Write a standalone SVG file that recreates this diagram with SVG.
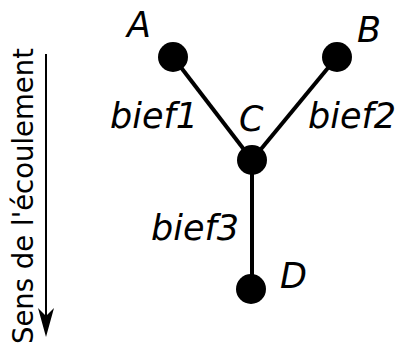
<svg xmlns="http://www.w3.org/2000/svg" width="397" height="345" viewBox="0 0 397 345">
<style>
.lbl{font-family:"DejaVu Sans",sans-serif;font-style:italic;font-size:35px;fill:#000}
.edge{stroke:#000;stroke-width:4;fill:none}
.dot{fill:#000}
.flow{font-family:"DejaVu Sans",sans-serif;font-size:27.5px;fill:#000}
</style>
<rect width="397" height="345" fill="#fff"/>
<g id="connectors">
<line class="edge" x1="173" y1="57" x2="252" y2="160"/>
<line class="edge" x1="337" y1="57" x2="252" y2="160"/>
<line class="edge" x1="252" y1="160" x2="252" y2="289"/>
<text class="lbl" x="110" y="128">bief1</text>
<text class="lbl" x="308" y="128">bief2</text>
<text class="lbl" x="151" y="240">bief3</text>
</g>
<g id="A"><circle class="dot" cx="173" cy="57" r="15"/><text class="lbl" x="127" y="37">A</text></g>
<g id="B"><circle class="dot" cx="337" cy="57" r="15"/><text class="lbl" x="357" y="42">B</text></g>
<g id="C"><circle class="dot" cx="252" cy="160" r="15"/><text class="lbl" x="239" y="131">C</text></g>
<g id="D"><circle class="dot" cx="251" cy="289" r="15"/><text class="lbl" x="280" y="288">D</text></g>
<g id="flow">
<line x1="46" y1="54" x2="46" y2="320" stroke="#000" stroke-width="2"/>
<polygon points="46,337 38,308 46,316 54,308" fill="#000"/>
<text class="flow" transform="translate(33,344) rotate(-90)">Sens de l'écoulement</text>
</g>
</svg>
